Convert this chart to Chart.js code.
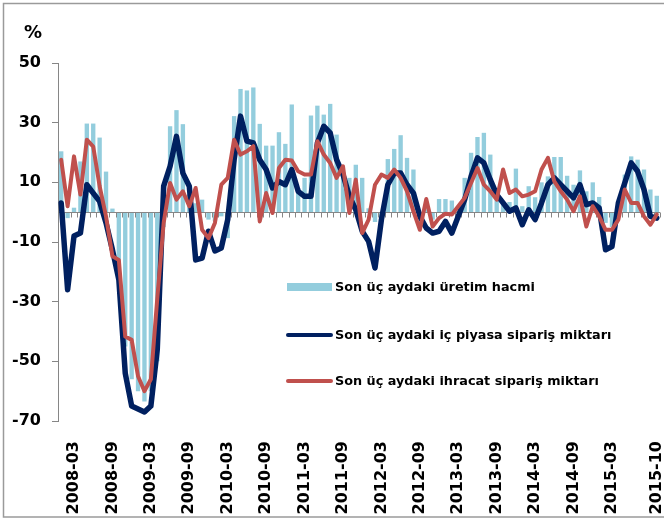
<!DOCTYPE html>
<html>
<head>
<meta charset="utf-8">
<script src="https://cdn.jsdelivr.net/npm/chart.js@4.4.1/dist/chart.umd.min.js"></script>
<style>
  html, body { margin: 0; padding: 0; background: #fff; }
  #wrap { position: relative; width: 664px; height: 519px; }
</style>
</head>
<body>
<div id="wrap"><canvas id="grafico" width="664" height="519"></canvas></div>
<script>
// Aylar: 2008-01 .. 2015-10
const meses = [];
for (let a = 2008; a <= 2015; a++) {
  for (let m = 1; m <= 12; m++) {
    if (a === 2015 && m > 10) break;
    meses.push(a + '-' + String(m).padStart(2, '0'));
  }
}

// eksende yazılan etiketler
const rotulos = ['2008-03', '2008-09', '2009-03', '2009-09', '2010-03', '2010-09', '2011-03', '2011-09',
  '2012-03', '2012-09', '2013-03', '2013-09', '2014-03', '2014-09', '2015-03', '2015-10'];

// Son üç aydaki üretim hacmi (sütun)
const uretim = [
  20.4, -2, 1.5, 17, 29.7, 29.7, 25, 13.6, 1.2, -20, -45, -56,
  -60, -63.5, -60, -50, -5, 28.8, 34.2, 29.5, 6, 3, 4.2, -2.5,
  -3, -1.4, -8.7, 32.2, 41.3, 40.8, 41.8, 29.6, 22.3, 22.3, 26.8, 22.9,
  36.1, 8, 11.5, 32.4, 35.7, 32.7, 36.3, 26, 13, 11.5, 15.9, 11.5,
  1.3, -3.3, -2, 17.8, 21.2, 25.8, 18.2, 14.3, -3, 1, -2.5, 4.4,
  4.4, 3.9, 1, 11.5, 19.9, 25.2, 26.6, 19.3, 5, 3, 3.4, 14.6,
  2, 8.7, 5, 10, 12, 18.5, 18.5, 12.2, 9.2, 14, 7, 10,
  5.1, -3.6, -5, 0, 12.6, 18.7, 17.6, 14.3, 7.6, 5.5
];

// Son üç aydaki iç piyasa sipariş miktarı
const icPiyasa = [
  3.1, -26, -8, -7, 9.2, 6.4, 3.6, -3.6, -12.6, -22.6, -54, -65,
  -66, -67, -65, -46, 8.7, 15.4, 25.4, 13.1, 8.7, -16, -15.4, -6.4,
  -13, -12, -2.5, 17.6, 32.2, 23.8, 23.2, 17.6, 14.3, 8.1, 10.3, 9.2,
  14.3, 7, 5.3, 5.3, 23.2, 28.8, 26.6, 17.6, 12.6, 5.3, 0.8, -6.4,
  -9.8, -18.7, -2.5, 9.2, 13.1, 13.1, 9.2, 6.4, -1.4, -5.3, -7, -6.4,
  -3.1, -7, -1.4, 4.2, 12, 18.2, 16.5, 10.9, 5.9, 3.1, 0.3, 1.4,
  -4.2, 0.8, -2.5, 3.1, 9.2, 11.5, 9.2, 7, 4.8, 9.2, 2.5, 3.1,
  1.4, -12.6, -11.5, 3.1, 9.8, 16.5, 13.7, 7.6, -1.4, -2
];

// Son üç aydaki ihracat sipariş miktarı
const ihracat = [
  17.6, 2, 18.7, 5.9, 24.3, 22, 8.7, -1.4, -14.8, -16, -41.7, -42.8,
  -55, -60, -56, -29, -3.6, 9.8, 4.2, 7, 2, 8.1, -5.9, -8.7,
  -3.6, 9.2, 11.5, 24.3, 19.3, 20.4, 22.1, -3.1, 6.4, -0.3, 14.8, 17.6,
  17.3, 13.7, 12.6, 12.6, 23.8, 19.3, 16.5, 11.5, 15.4, -0.3, 10.9, -7,
  -2.5, 9.2, 12.6, 11.5, 14.3, 11.5, 7, 0.3, -5.9, 4.4, -4.8, -2,
  -0.5, -0.8, 2, 4.8, 9.8, 14.8, 9.2, 7, 4.2, 14.3, 6.4, 7.6,
  5.3, 5.9, 7, 14.3, 18.2, 10.3, 7, 4.2, 0.3, 5.3, -4.8, 2,
  -1.4, -5.9, -5.9, -2.5, 7.6, 3.1, 3.1, -1.4, -4.2, -0.8
];

const fonte = 'DejaVu Sans, Verdana, sans-serif';
const cinza = '#868686';

// sıfır ekseni, "%" işareti, lejant ve çerçeve
const extras = {
  id: 'extras',
  afterDatasetDraw(chart, args) {
    if (args.index !== 0) return;
    const { ctx, chartArea } = chart;
    const x = chart.scales.x, y = chart.scales.y;
    const y0 = Math.round(y.getPixelForValue(0)) + 0.5;
    const passo = x.getPixelForValue(1) - x.getPixelForValue(0);
    ctx.save();
    ctx.strokeStyle = cinza;
    ctx.lineWidth = 1;
    ctx.beginPath();
    ctx.moveTo(chartArea.left, y0);
    ctx.lineTo(chartArea.right, y0);
    for (let i = 0; i <= meses.length; i++) {
      const px = Math.round(x.getPixelForValue(i) - passo / 2) + 0.5;
      ctx.moveTo(px, y0);
      ctx.lineTo(px, y0 + 5);
    }
    ctx.stroke();
    ctx.restore();
  },
  afterDraw(chart) {
    const ctx = chart.ctx;
    ctx.save();
    ctx.fillStyle = '#000';
    ctx.font = 'bold 18px ' + fonte;
    ctx.textAlign = 'center';
    ctx.textBaseline = 'middle';
    ctx.fillText('%', 33, 33);

    // lejant
    const linhas = [287, 335, 381];
    ctx.font = 'bold 12.8px ' + fonte;
    ctx.textAlign = 'left';
    chart.data.datasets.forEach((ds, i) => {
      const yy = linhas[i];
      if (ds.type === 'bar') {
        ctx.fillStyle = ds.backgroundColor;
        ctx.fillRect(287, yy - 4, 45, 8);
      } else {
        ctx.strokeStyle = ds.borderColor;
        ctx.lineWidth = 4;
        ctx.lineCap = 'round';
        ctx.beginPath();
        ctx.moveTo(288, yy);
        ctx.lineTo(331, yy);
        ctx.stroke();
      }
      ctx.fillStyle = '#000';
      ctx.fillText(ds.label, 335, yy + 1);
    });

    // çerçeve
    ctx.strokeStyle = '#9a9a9a';
    ctx.lineWidth = 1.5;
    ctx.strokeRect(3.5, 3.5, 680, 513.5);
    ctx.restore();
  }
};

new Chart(document.getElementById('grafico'), {
  data: {
    labels: meses,
    datasets: [
      {
        type: 'bar',
        label: 'Son üç aydaki üretim hacmi',
        data: uretim,
        backgroundColor: '#93CDDD',
        barPercentage: 0.68,
        categoryPercentage: 1,
        order: 3
      },
      {
        type: 'line',
        label: 'Son üç aydaki iç piyasa sipariş miktarı',
        data: icPiyasa,
        borderColor: '#002060',
        borderWidth: 5.5,
        borderJoinStyle: 'round',
        borderCapStyle: 'round',
        pointRadius: 0,
        tension: 0,
        order: 2
      },
      {
        type: 'line',
        label: 'Son üç aydaki ihracat sipariş miktarı',
        data: ihracat,
        borderColor: '#C0504D',
        borderWidth: 4,
        borderJoinStyle: 'round',
        borderCapStyle: 'round',
        pointRadius: 0,
        tension: 0,
        order: 1
      }
    ]
  },
  options: {
    responsive: false,
    animation: false,
    layout: { padding: { left: 0, right: 4, top: 63, bottom: 0 } },
    plugins: {
      legend: { display: false },
      tooltip: { enabled: false }
    },
    scales: {
      x: {
        offset: true,
        grid: { display: false },
        border: { display: false },
        ticks: {
          autoSkip: false,
          maxRotation: 90,
          minRotation: 90,
          padding: 12,
          color: '#000',
          font: { family: fonte, size: 16, weight: 'bold' },
          callback: function (v) {
            const l = this.getLabelForValue(v);
            return rotulos.includes(l) ? l : '';
          }
        },
        afterFit: s => {
          s.height = 98;
          s.paddingLeft = 0;
          s.paddingRight = 0;
        }
      },
      y: {
        min: -70,
        max: 50,
        ticks: {
          stepSize: 20,
          padding: 11,
          color: '#000',
          font: { family: fonte, size: 16, weight: 'bold' }
        },
        grid: { drawOnChartArea: false, drawTicks: true, tickLength: 6, color: cinza },
        border: { display: true, color: cinza },
        afterFit: s => { s.width = 58; }
      }
    }
  },
  plugins: [extras]
});
</script>
</body>
</html>
